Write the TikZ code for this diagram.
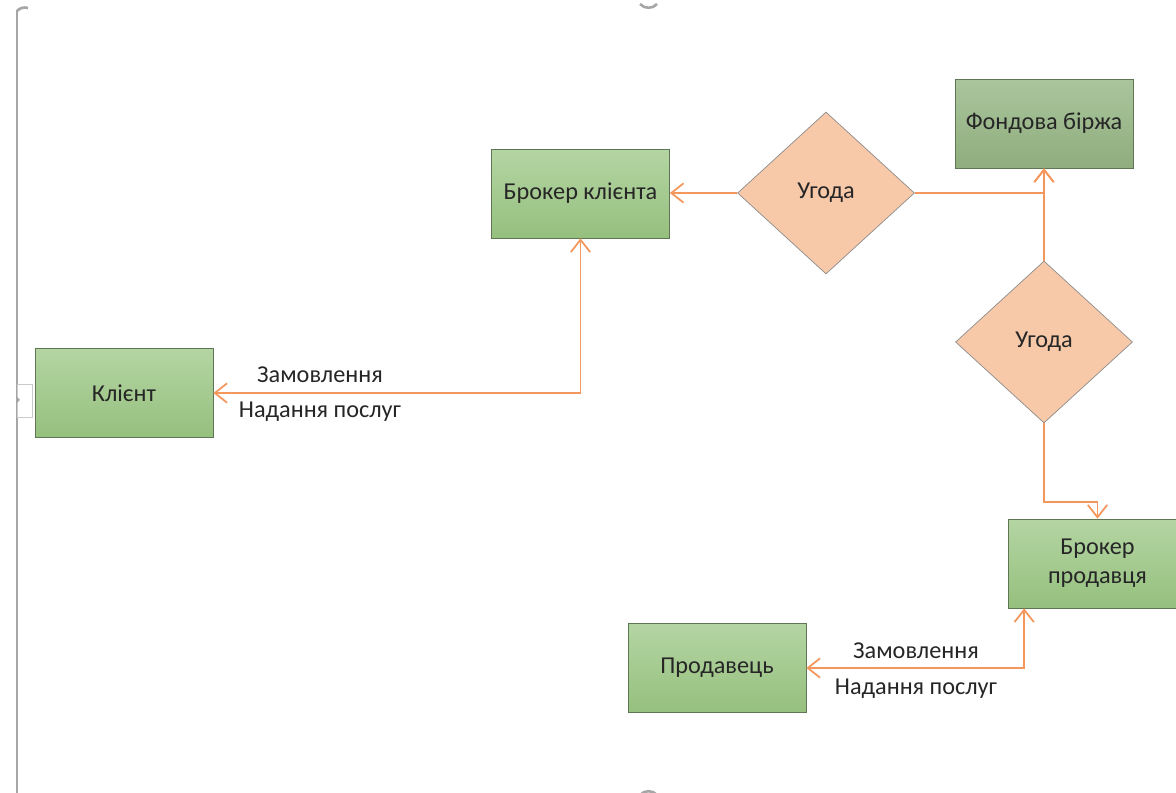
\documentclass[tikz,border=0pt]{standalone}
\usepackage{fontspec}
\setmainfont{Carlito}
\usetikzlibrary{arrows.meta,shapes.geometric}
\definecolor{boxtop}{HTML}{B4D5A3}
\definecolor{boxbot}{HTML}{96C07E}
\definecolor{boxline}{HTML}{5E7654}
\definecolor{stocktop}{HTML}{AAC59D}
\definecolor{stockbot}{HTML}{8FAD7D}
\definecolor{dealfill}{HTML}{F7C9A9}
\definecolor{dealline}{HTML}{8C8C8C}
\definecolor{linkor}{HTML}{F4975C}
\definecolor{frame}{HTML}{A6A6A6}

\begin{document}
\begin{tikzpicture}[x=0.02cm, y=-0.02cm,
    font=\fontsize{13.8}{16.5}\selectfont,
    >={Straight Barb[length=7pt,width=11pt]},
    box/.style={draw=boxline, top color=boxtop, bottom color=boxbot,
        minimum width=3.56cm, minimum height=1.78cm, align=center, text=black!85},
    deal/.style={diamond, draw=dealline, fill=dealfill,
        minimum width=3.54cm, minimum height=3.24cm, inner sep=0pt, text=black!85},
    link/.style={draw=linkor, line width=1pt, ->},
    tag/.style={text=black!85}]
    \useasboundingbox (0,0) rectangle (1176,793);

    % page edge
    \draw[frame, line width=1.2pt] (17,10) -- (17,793);
    \draw[frame, line width=1.5pt] (17,11) to[bend left=30] (28,8);
    \draw[frame, line width=1.5pt] (640,4) to[bend right=50] (657,4);
    \draw[frame, line width=1.5pt] (640,795) to[bend left=50] (657,795);
    \filldraw[draw=frame!60, fill=white, line width=0.5pt] (17,384) rectangle (32,417);
    \fill[frame] (17,397) -- (20,400) -- (17,403) -- cycle;

    % boxes
    \node[box] (klient) at (124,393) {Клієнт};
    \node[box] (brokerk) at (580.5,193.5) {Брокер клієнта};
    \node[box, top color=stocktop, bottom color=stockbot] (birzha) at (1044,123.5) {Фондова біржа};
    \node[box] (brokerp) at (1097.5,563.5) {Брокер\\продавця};
    \node[box] (prodav) at (717,668) {Продавець};

    % deals
    \node[deal] (deal1) at (826,193) {Угода};
    \node[deal] (deal2) at (1044,342) {Угода};

    % draw arrow
    \draw[link] (deal1.west) -- (brokerk.east |- deal1.west);
    \draw[link] (deal1.east) -| (birzha.south);
    \draw[link] (deal2.north) -- (birzha.south);
    \coordinate (bend) at (1044,502);
    \draw[link] (deal2.south) -- (bend) -| (brokerp.north);
    \draw[link, <->] (klient.east) -| (brokerk.south);
    \draw[link, <->] (prodav.east) -| ([xshift=0.32cm]brokerp.south west);

    % labels
    \node[tag] (zam1) at (320,375) {Замовлення};
    \node[tag] (nad1) at (320,412) {Надання послуг};
    \node[tag] (zam2) at (916,651) {Замовлення};
    \node[tag] (nad2) at (916,689) {Надання послуг};
\end{tikzpicture}
\end{document}
